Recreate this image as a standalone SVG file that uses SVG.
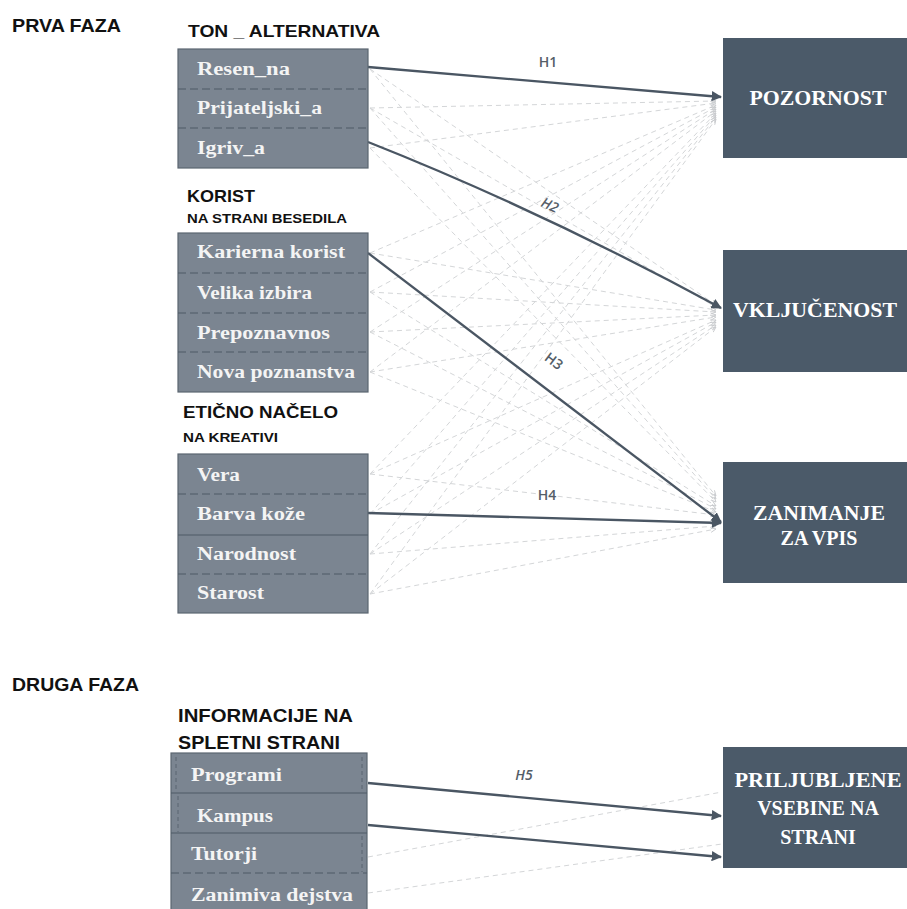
<svg xmlns="http://www.w3.org/2000/svg" width="907" height="909" viewBox="0 0 907 909">
<style>
.hd{font-family:"Liberation Sans",Arial,sans-serif;font-weight:bold;fill:#111;}
.it{font-family:"Liberation Serif","Times New Roman",serif;font-weight:bold;font-size:18px;fill:#f4f4f4;}
.tg{font-family:"Liberation Serif","Times New Roman",serif;font-weight:bold;font-size:20px;fill:#ffffff;text-anchor:middle;}
.box{fill:#7b8591;stroke:#5b6671;stroke-width:1.2;}
.tbox{fill:#4b5a69;}
.dv{stroke:#4f5a66;stroke-width:1.2;stroke-dasharray:8,4;}
.sv{stroke:#4f5a66;stroke-width:1.2;}
.iv{stroke:#5a6570;stroke-width:1;stroke-dasharray:4,3;fill:none;}
.sol{stroke:#4a5663;stroke-width:2.3;fill:none;marker-end:url(#ah);}
.das{stroke:#d4d6d8;stroke-width:1;stroke-dasharray:5,4;fill:none;marker-end:url(#ahg);}
.lb{font-family:"Open Sans","Liberation Sans",sans-serif;font-size:14px;font-weight:600;fill:#555e68;}
</style>
<defs>
<marker id="ah" viewBox="0 0 10 10" refX="9" refY="5" markerWidth="4.5" markerHeight="4.5" orient="auto" markerUnits="strokeWidth">
<path d="M0,0 L10,5 L0,10 z" fill="#4a5663"/>
</marker>
<marker id="ahg" viewBox="0 0 10 10" refX="9" refY="5" markerWidth="6" markerHeight="6" orient="auto" markerUnits="strokeWidth">
<path d="M0,1 L9,5 L0,9" fill="none" stroke="#c8cacd" stroke-width="1.5"/>
</marker>
</defs>
<rect width="907" height="909" fill="#ffffff"/>

<text class="hd" x="12" y="32" font-size="18" textLength="109" lengthAdjust="spacingAndGlyphs">PRVA FAZA</text>
<text class="hd" x="12" y="691" font-size="18" textLength="127" lengthAdjust="spacingAndGlyphs">DRUGA FAZA</text>

<!-- connectors -->
<g id="connectors">
<g id="dashed">
<!-- to POZORNOST -->
<line class="das" x1="370" y1="108" x2="716" y2="101"/>
<line class="das" x1="370" y1="148" x2="716" y2="103"/>
<line class="das" x1="370" y1="253" x2="716" y2="105"/>
<line class="das" x1="370" y1="292" x2="716" y2="107"/>
<line class="das" x1="370" y1="332" x2="716" y2="109"/>
<line class="das" x1="370" y1="372" x2="716" y2="111"/>
<line class="das" x1="370" y1="474" x2="716" y2="113"/>
<line class="das" x1="370" y1="514" x2="716" y2="115"/>
<line class="das" x1="370" y1="554" x2="716" y2="117"/>
<line class="das" x1="370" y1="594" x2="716" y2="119"/>
<!-- to VKLJUCENOST -->
<line class="das" x1="370" y1="69" x2="716" y2="305"/>
<line class="das" x1="370" y1="108" x2="716" y2="307"/>
<line class="das" x1="370" y1="253" x2="716" y2="310"/>
<line class="das" x1="370" y1="292" x2="716" y2="312"/>
<line class="das" x1="370" y1="332" x2="716" y2="315"/>
<line class="das" x1="370" y1="372" x2="716" y2="317"/>
<line class="das" x1="370" y1="474" x2="716" y2="320"/>
<line class="das" x1="370" y1="514" x2="716" y2="322"/>
<line class="das" x1="370" y1="554" x2="716" y2="325"/>
<line class="das" x1="370" y1="594" x2="716" y2="327"/>
<!-- to ZANIMANJE -->
<line class="das" x1="370" y1="69" x2="716" y2="496"/>
<line class="das" x1="370" y1="108" x2="716" y2="499"/>
<line class="das" x1="370" y1="148" x2="716" y2="502"/>
<line class="das" x1="370" y1="292" x2="716" y2="506"/>
<line class="das" x1="370" y1="332" x2="716" y2="509"/>
<line class="das" x1="370" y1="372" x2="716" y2="512"/>
<line class="das" x1="370" y1="474" x2="716" y2="515"/>
<line class="das" x1="370" y1="554" x2="716" y2="526"/>
<line class="das" x1="370" y1="594" x2="716" y2="529"/>
<!-- phase 2 -->
<line stroke="#d4d6d8" stroke-width="1" stroke-dasharray="5,4" x1="368" y1="857" x2="722" y2="792"/>
<line stroke="#d4d6d8" stroke-width="1" stroke-dasharray="5,4" x1="368" y1="893" x2="722" y2="844"/>
</g>
<g id="solid">
<line class="sol" x1="368" y1="67" x2="721" y2="97"/>
<path class="sol" d="M368,142 Q540,210 721,308"/>
<line class="sol" x1="368" y1="253" x2="721" y2="522"/>
<line class="sol" x1="368" y1="513" x2="721" y2="523"/>
<line class="sol" x1="368" y1="783" x2="721" y2="816"/>
<line class="sol" x1="368" y1="825" x2="721" y2="857"/>
</g>
<g id="labels">
<text class="lb" x="548" y="67" text-anchor="middle">H1</text>
<text class="lb" x="550" y="210" text-anchor="middle" font-style="italic" transform="rotate(24 550 205)">H2</text>
<text class="lb" x="554" y="366" text-anchor="middle" transform="rotate(37 554 361)">H3</text>
<text class="lb" x="547" y="500" text-anchor="middle">H4</text>
<text class="lb" x="524" y="780" text-anchor="middle" font-style="italic">H5</text>
</g>
</g>

<!-- TON _ ALTERNATIVA -->
<g id="ton-alternativa">
<text class="hd" x="188" y="37" font-size="17" textLength="192" lengthAdjust="spacingAndGlyphs">TON _ ALTERNATIVA</text>
<rect class="box" x="178" y="49" width="190" height="119"/>
<line class="dv" x1="178" y1="89" x2="368" y2="89"/>
<line class="dv" x1="178" y1="128" x2="368" y2="128"/>
<text class="it" x="197" y="75" textLength="93" lengthAdjust="spacingAndGlyphs">Resen_na</text>
<text class="it" x="197" y="114" textLength="125" lengthAdjust="spacingAndGlyphs">Prijateljski_a</text>
<text class="it" x="197" y="154" textLength="68" lengthAdjust="spacingAndGlyphs">Igriv_a</text>
</g>

<!-- KORIST -->
<g id="korist">
<text class="hd" x="187" y="202" font-size="17" textLength="68" lengthAdjust="spacingAndGlyphs">KORIST</text>
<text class="hd" x="187" y="223" font-size="13" textLength="160" lengthAdjust="spacingAndGlyphs">NA STRANI BESEDILA</text>
<rect class="box" x="178" y="233" width="190" height="159"/>
<line class="dv" x1="178" y1="273" x2="368" y2="273"/>
<line class="dv" x1="178" y1="313" x2="368" y2="313"/>
<line class="dv" x1="178" y1="352" x2="368" y2="352"/>
<text class="it" x="197" y="258" textLength="148" lengthAdjust="spacingAndGlyphs">Karierna korist</text>
<text class="it" x="197" y="299" textLength="115" lengthAdjust="spacingAndGlyphs">Velika izbira</text>
<text class="it" x="197" y="339" textLength="133" lengthAdjust="spacingAndGlyphs">Prepoznavnos</text>
<text class="it" x="197" y="378" textLength="158" lengthAdjust="spacingAndGlyphs">Nova poznanstva</text>
</g>

<!-- ETICNO NACELO -->
<g id="eticno-nacelo">
<text class="hd" x="183" y="418" font-size="17" textLength="155" lengthAdjust="spacingAndGlyphs">ETIČNO NAČELO</text>
<text class="hd" x="183" y="442" font-size="13" textLength="95" lengthAdjust="spacingAndGlyphs">NA KREATIVI</text>
<rect class="box" x="178" y="454" width="190" height="159"/>
<line class="dv" x1="178" y1="494" x2="368" y2="494"/>
<line class="sv" x1="178" y1="535" x2="368" y2="535"/>
<line class="dv" x1="178" y1="574" x2="368" y2="574"/>
<text class="it" x="197" y="481" textLength="43" lengthAdjust="spacingAndGlyphs">Vera</text>
<text class="it" x="197" y="520" textLength="108" lengthAdjust="spacingAndGlyphs">Barva kože</text>
<text class="it" x="197" y="560" textLength="99" lengthAdjust="spacingAndGlyphs">Narodnost</text>
<text class="it" x="197" y="599" textLength="67" lengthAdjust="spacingAndGlyphs">Starost</text>
</g>

<!-- INFORMACIJE NA SPLETNI STRANI -->
<g id="informacije">
<text class="hd" x="178" y="722" font-size="19" textLength="175" lengthAdjust="spacingAndGlyphs">INFORMACIJE NA</text>
<text class="hd" x="178" y="749" font-size="19" textLength="162" lengthAdjust="spacingAndGlyphs">SPLETNI STRANI</text>
<rect class="box" x="171" y="753" width="196" height="162"/>
<line class="sv" x1="171" y1="793" x2="367" y2="793"/>
<line class="sv" x1="171" y1="833" x2="367" y2="833"/>
<line class="dv" x1="171" y1="873" x2="367" y2="873"/>
<line class="iv" x1="176" y1="757" x2="176" y2="792"/>
<line class="iv" x1="362" y1="757" x2="362" y2="792"/>
<line class="iv" x1="178" y1="796" x2="178" y2="832"/>
<line class="iv" x1="362" y1="836" x2="362" y2="872"/>
<text class="it" x="191" y="781" textLength="91" lengthAdjust="spacingAndGlyphs">Programi</text>
<text class="it" x="197" y="822" textLength="76" lengthAdjust="spacingAndGlyphs">Kampus</text>
<text class="it" x="191" y="860" textLength="66" lengthAdjust="spacingAndGlyphs">Tutorji</text>
<text class="it" x="191" y="901" textLength="162" lengthAdjust="spacingAndGlyphs">Zanimiva dejstva</text>
</g>

<!-- targets -->
<g id="pozornost">
<rect class="tbox" x="723" y="38" width="184" height="120"/>
<text class="tg" x="818" y="105" textLength="137" lengthAdjust="spacingAndGlyphs">POZORNOST</text>
</g>
<g id="vkljucenost">
<rect class="tbox" x="723" y="250" width="184" height="122"/>
<text class="tg" x="815" y="317" textLength="164" lengthAdjust="spacingAndGlyphs">VKLJUČENOST</text>
</g>
<g id="zanimanje">
<rect class="tbox" x="723" y="462" width="184" height="121"/>
<text class="tg" x="819" y="520" textLength="132" lengthAdjust="spacingAndGlyphs">ZANIMANJE</text>
<text class="tg" x="819" y="545" font-size="21">ZA VPIS</text>
</g>
<g id="priljubljene">
<rect class="tbox" x="723" y="747" width="184" height="121"/>
<text class="tg" x="818" y="787" textLength="167" lengthAdjust="spacingAndGlyphs">PRILJUBLJENE</text>
<text class="tg" x="818" y="815" font-size="21">VSEBINE NA</text>
<text class="tg" x="818" y="844" font-size="21">STRANI</text>
</g>
</svg>
